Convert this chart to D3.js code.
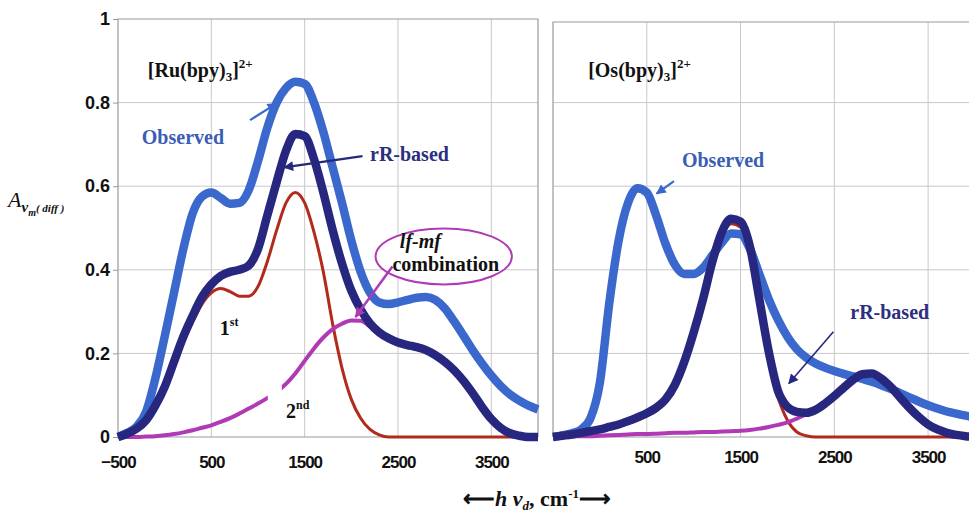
<!DOCTYPE html>
<html>
<head>
<meta charset="utf-8">
<script src="https://cdn.jsdelivr.net/npm/d3@7"></script>
<style>
  html, body { margin: 0; padding: 0; background: #fff; }
  svg { display: block; }
  .tick-label { font-family: "Liberation Sans", Arial, sans-serif; font-weight: bold; fill: #111; }
  .serif { font-family: "Liberation Serif", "Times New Roman", serif; font-weight: bold; }
</style>
</head>
<body>
<svg id="chart" width="969" height="512"></svg>
<script>
// Energy grid (cm^-1) shared by every spectrum
const energies = d3.range(-500, 4001, 100);

// [Ru(bpy)3]2+ difference spectra
const ruObserved = [0.0, 0.01, 0.025, 0.06, 0.14, 0.24, 0.345, 0.45, 0.535, 0.575, 0.585, 0.572, 0.558, 0.56, 0.59, 0.66,
  0.74, 0.8, 0.835, 0.85, 0.845, 0.8, 0.73, 0.645, 0.56, 0.47, 0.395, 0.345, 0.322, 0.318, 0.322, 0.328, 0.333, 0.335,
  0.328, 0.308, 0.277, 0.243, 0.208, 0.176, 0.147, 0.122, 0.102, 0.087, 0.075, 0.066];
const ruRR = [0, 0.008, 0.02, 0.04, 0.075, 0.12, 0.18, 0.24, 0.29, 0.335, 0.365, 0.385, 0.395, 0.4, 0.41, 0.45,
  0.53, 0.61, 0.685, 0.725, 0.72, 0.665, 0.585, 0.495, 0.415, 0.35, 0.305, 0.272, 0.25, 0.236, 0.226, 0.22, 0.215, 0.208,
  0.196, 0.18, 0.16, 0.135, 0.105, 0.072, 0.043, 0.022, 0.009, 0.003, 0, 0];
const ruFirst = [0, 0.008, 0.02, 0.04, 0.073, 0.115, 0.17, 0.225, 0.275, 0.318, 0.345, 0.355, 0.348, 0.337, 0.337, 0.36,
  0.42, 0.495, 0.56, 0.585, 0.56, 0.49, 0.395, 0.27, 0.165, 0.09, 0.045, 0.018, 0.005, 0, 0, 0, 0, 0,
  0, 0, 0, 0, 0, 0, 0, 0, 0, 0, 0, 0];
const ruLfMf = [0, 0, 0, 0.001, 0.002, 0.004, 0.007, 0.011, 0.016, 0.022, 0.028, 0.036, 0.045, 0.056, 0.068, 0.08,
  0.093, 0.108, 0.127, 0.152, 0.182, 0.212, 0.238, 0.258, 0.271, 0.279, 0.278, 0.264, 0.246, 0.232, 0.222, 0.217, 0.212, 0.205,
  0.194, 0.178, 0.158, 0.133, 0.103, 0.07, 0.042, 0.021, 0.009, 0.003, 0, 0];

// [Os(bpy)3]2+ difference spectra
const osObserved = [0, 0.004, 0.009, 0.018, 0.045, 0.13, 0.32, 0.47, 0.56, 0.595, 0.585, 0.53, 0.462, 0.412, 0.39, 0.39,
  0.405, 0.435, 0.465, 0.487, 0.485, 0.45, 0.39, 0.33, 0.28, 0.24, 0.21, 0.19, 0.176, 0.166, 0.158, 0.151, 0.145, 0.139,
  0.132, 0.124, 0.115, 0.105, 0.095, 0.085, 0.076, 0.068, 0.061, 0.056, 0.051, 0.047];
const osRR = [0, 0.003, 0.006, 0.01, 0.014, 0.018, 0.024, 0.03, 0.038, 0.047, 0.057, 0.07, 0.09, 0.125, 0.18, 0.25,
  0.33, 0.42, 0.49, 0.522, 0.515, 0.455, 0.33, 0.205, 0.11, 0.072, 0.06, 0.058, 0.065, 0.08, 0.098, 0.118, 0.137, 0.15,
  0.152, 0.14, 0.12, 0.095, 0.07, 0.048, 0.03, 0.018, 0.01, 0.005, 0.002, 0];
const osFirst = [0, 0.003, 0.005, 0.009, 0.012, 0.015, 0.02, 0.025, 0.032, 0.04, 0.05, 0.062, 0.081, 0.115, 0.17, 0.24,
  0.32, 0.41, 0.478, 0.51, 0.502, 0.44, 0.315, 0.185, 0.095, 0.04, 0.012, 0.003, 0, 0, 0, 0, 0, 0,
  0, 0, 0, 0, 0, 0, 0, 0, 0, 0, 0, 0];
const osLfMf = [0, 0.001, 0.001, 0.002, 0.002, 0.003, 0.004, 0.005, 0.006, 0.007, 0.007, 0.008, 0.009, 0.01, 0.01, 0.011,
  0.012, 0.012, 0.013, 0.014, 0.015, 0.017, 0.02, 0.024, 0.029, 0.035, 0.044, 0.054, 0.063, 0.078, 0.096, 0.116, 0.135, 0.148,
  0.15, 0.138, 0.118, 0.093, 0.068, 0.046, 0.029, 0.017, 0.009, 0.004, 0.001, 0];

// Axis ticks
const yTicks = [0, 0.2, 0.4, 0.6, 0.8, 1];
const yTickLabels = ["0", "0.2", "0.4", "0.6", "0.8", "1"];
const leftXTicks = [-500, 500, 1500, 2500, 3500];
const rightXTicks = [500, 1500, 2500, 3500];
const gridX = [500, 1500, 2500, 3500];

const colors = {
  observed: "#3b68cc",
  rr: "#27277f",
  first: "#b22a1c",
  lfmf: "#b03ab6",
  grid: "#c9c9c9",
  frame: "#9a9a9a"
};

const svg = d3.select("#chart");

const y = d3.scaleLinear().domain([0, 1]).range([437, 19]);
const xLeft = d3.scaleLinear().domain([-500, 4000]).range([118, 538]);
const xRight = d3.scaleLinear().domain([-500, 4000]).range([553, 975]);

// arrowhead markers
const defs = svg.append("defs");
function marker(id, color) {
  defs.append("marker")
    .attr("id", id).attr("viewBox", "0 0 10 10").attr("refX", 9).attr("refY", 5)
    .attr("markerWidth", 12).attr("markerHeight", 10).attr("orient", "auto")
    .attr("markerUnits", "userSpaceOnUse")
    .append("path").attr("d", "M0,0 L10,5 L0,10 z").attr("fill", color);
}
marker("ah-obs", colors.observed);
marker("ah-rr", colors.rr);
marker("ah-lf", colors.lfmf);

function panel(x, opts) {
  const g = svg.append("g");
  const [x0, x1] = x.range();
  const right = Math.min(x1, 969);
  const top = y(1) + opts.topOffset;
  // grid
  g.selectAll(".hgrid").data(yTicks.filter(d => d > 0 && d < 1)).enter().append("line")
    .attr("x1", x0).attr("x2", right).attr("y1", d => y(d)).attr("y2", d => y(d))
    .attr("stroke", colors.grid).attr("stroke-width", 1);
  g.selectAll(".vgrid").data(gridX).enter().append("line")
    .attr("x1", d => x(d)).attr("x2", d => x(d)).attr("y1", top).attr("y2", y(0))
    .attr("stroke", colors.grid).attr("stroke-width", 1);
  // frame
  g.append("path")
    .attr("d", `M${x0},${y(0)} L${x0},${top} L${right},${top}` + (x1 <= 969 ? ` L${right},${y(0)}` : ""))
    .attr("fill", "none").attr("stroke", colors.frame).attr("stroke-width", 1.2);
  g.append("line").attr("x1", x0).attr("x2", right).attr("y1", y(0)).attr("y2", y(0))
    .attr("stroke", colors.frame).attr("stroke-width", 1.2);

  // x axis labels
  const ax = d3.axisBottom(x).tickValues(opts.xTicks).tickSize(0).tickPadding(opts.xPad).tickFormat(d3.format("d"));
  const axg = g.append("g").attr("transform", `translate(0,${y(0)})`).call(ax);
  axg.select(".domain").remove();
  axg.selectAll("text").attr("class", "tick-label").style("font-size", "17px").style("letter-spacing", "-1px").attr("fill", "#111");

  const line = d3.line().x((d, i) => x(energies[i])).y(d => y(d)).curve(d3.curveMonotoneX);
  const draw = (vals, color, w) => g.append("path").datum(vals).attr("d", line)
    .attr("fill", "none").attr("stroke", color).attr("stroke-width", w).attr("stroke-linejoin", "round");
  draw(opts.observed, colors.observed, 8.5);
  draw(opts.first, colors.first, 3);
  draw(opts.lfmf, colors.lfmf, 4);
  draw(opts.rr, colors.rr, 8.5);
  return g;
}

const gl = panel(xLeft, { xTicks: leftXTicks, xPad: 19, topOffset: 0,
  observed: ruObserved, rr: ruRR, first: ruFirst, lfmf: ruLfMf });
const gr = panel(xRight, { xTicks: rightXTicks, xPad: 14, topOffset: 3,
  observed: osObserved, rr: osRR, first: osFirst, lfmf: osLfMf });

// y axis
const yAx = d3.axisLeft(y).tickValues(yTicks).tickSize(5).tickPadding(3).tickFormat((d, i) => yTickLabels[i]);
const yg = svg.append("g").attr("transform", `translate(${xLeft(-500)},0)`).call(yAx);
yg.select(".domain").remove();
yg.selectAll("line").attr("stroke", colors.frame);
yg.selectAll("text").attr("class", "tick-label").style("font-size", "18px").attr("fill", "#111");

// annotations (data units)
function text(g, x, vx, vy, str, color, size, italic) {
  return g.append("text").attr("class", "serif").attr("x", x(vx)).attr("y", y(vy))
    .attr("fill", color).style("font-size", size + "px").style("font-style", italic ? "italic" : "normal").text(str);
}
function arrow(g, x, a, b, color, id, w) {
  g.append("line").attr("x1", x(a[0])).attr("y1", y(a[1])).attr("x2", x(b[0])).attr("y2", y(b[1]))
    .attr("stroke", color).attr("stroke-width", w).attr("marker-end", `url(#${id})`);
}
function complexLabel(g, x, vx, vy, metal) {
  const t = g.append("text").attr("class", "serif").attr("x", x(vx)).attr("y", y(vy)).attr("fill", "#111").style("font-size", "20px");
  t.append("tspan").text(`[${metal}(bpy)`);
  t.append("tspan").text("3").style("font-size", "13px").attr("dy", 4);
  t.append("tspan").text("]").attr("dy", -4);
  t.append("tspan").text("2+").style("font-size", "13px").attr("dy", -9);
}

// Ru panel
complexLabel(gl, xLeft, -180, 0.862, "Ru");
text(gl, xLeft, -245, 0.70, "Observed", "#3a5db5", 20);
arrow(gl, xLeft, [914, 0.758], [1200, 0.798], colors.observed, "ah-obs", 2.2);
text(gl, xLeft, 2200, 0.66, "rR-based", "#2c2e80", 20);
arrow(gl, xLeft, [2120, 0.672], [1280, 0.645], colors.rr, "ah-rr", 2.2);
gl.append("ellipse").attr("cx", xLeft(2990)).attr("cy", y(0.432))
  .attr("rx", xLeft(2990) - xLeft(2260)).attr("ry", y(0.365) - y(0.432))
  .attr("fill", "#fff").attr("stroke", colors.lfmf).attr("stroke-width", 2);
text(gl, xLeft, 2520, 0.452, "lf-mf", "#111", 20, true);
text(gl, xLeft, 2440, 0.398, "combination", "#111", 20);
arrow(gl, xLeft, [2440, 0.408], [2045, 0.287], colors.lfmf, "ah-lf", 2.5);
const st = text(gl, xLeft, 590, 0.244, "1", "#111", 20);
st.append("tspan").text("st").style("font-size", "12px").attr("dy", -9);
// label box for the 2nd-order tag sits over the lf-mf curve
gl.append("rect").attr("x", xLeft(1105)).attr("y", y(0.13)).attr("width", xLeft(1255) - xLeft(1105)).attr("height", y(0.07) - y(0.13)).attr("fill", "#fff");
const nd = text(gl, xLeft, 1300, 0.045, "2", "#111", 20);
nd.append("tspan").text("nd").style("font-size", "12px").attr("dy", -9);

// Os panel
complexLabel(gr, xRight, -125, 0.862, "Os");
text(gr, xRight, 875, 0.646, "Observed", "#3a5db5", 20);
arrow(gr, xRight, [790, 0.612], [605, 0.582], colors.observed, "ah-obs", 2.2);
text(gr, xRight, 2670, 0.282, "rR-based", "#2c2e80", 20);
arrow(gr, xRight, [2490, 0.252], [2015, 0.128], colors.rr, "ah-rr", 1.6);

// y axis title
const yt = svg.append("text").attr("class", "serif").attr("x", 8).attr("y", 207).attr("fill", "#111");
yt.append("tspan").text("A").style("font-size", "22px").style("font-style", "italic").style("font-weight", "normal");
yt.append("tspan").text("ν").style("font-size", "15px").style("font-style", "italic").attr("dy", 5);
yt.append("tspan").text("m").style("font-size", "10px").style("font-style", "italic").attr("dy", 4);
yt.append("tspan").text("( diff )").style("font-size", "11px").style("font-style", "italic").attr("dy", -4);

// x axis title
const xt = svg.append("text").attr("class", "serif").attr("x", 537).attr("y", 506).attr("text-anchor", "middle")
  .attr("fill", "#111").style("font-size", "22px");
xt.append("tspan").text("⟵");
xt.append("tspan").text("h").style("font-style", "italic");
xt.append("tspan").text(" ν").style("font-style", "italic");
xt.append("tspan").text("d").style("font-size", "13px").style("font-style", "italic").attr("dy", 4);
xt.append("tspan").text(", cm").attr("dy", -4);
xt.append("tspan").text("-1").style("font-size", "13px").attr("dy", -8);
xt.append("tspan").text("⟶").attr("dy", 8);
</script>
</body>
</html>
